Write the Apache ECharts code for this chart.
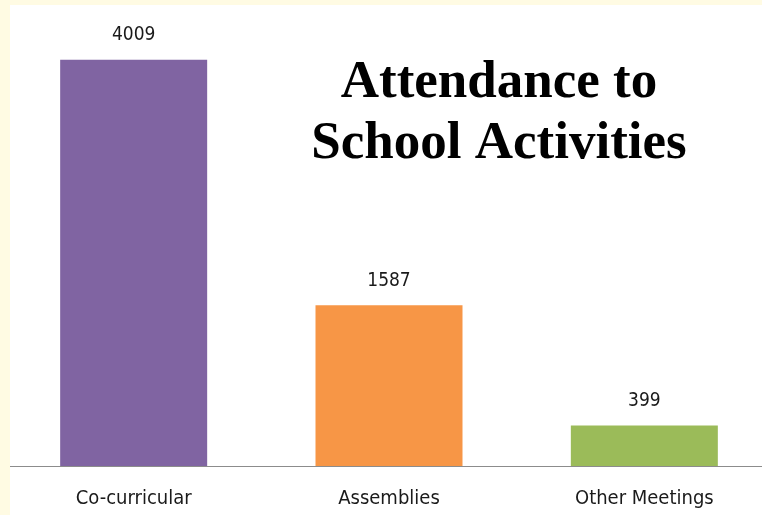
<!DOCTYPE html>
<html><head><meta charset="utf-8">
<script src="https://cdn.jsdelivr.net/npm/echarts@6/dist/echarts.min.js"></script>
<style>
html,body{margin:0;padding:0;width:762px;height:515px;background:#ffffff;overflow:hidden;}
#c{position:absolute;left:0;top:0;width:780px;height:515px;background:#ffffff;}
</style></head><body>
<div id="c"></div>
<script>
const categories = ['Co-curricular', 'Assemblies', 'Other Meetings'];
const values = [4009, 1587, 399];
const colors = ['#8064A2', '#F79646', '#9BBB59'];
const titleLines = ['Attendance to', 'School Activities'];

const labelFont = "'DejaVu Sans Condensed', 'DejaVu Sans', sans-serif";
const chart = echarts.init(document.getElementById('c'), null, {renderer: 'canvas'});
chart.setOption({
  animation: false,
  title: {
    text: titleLines.join('\n'),
    left: 494, top: 48, textAlign: 'center',
    textStyle: {fontFamily: 'Liberation Serif', fontWeight: 'bold', fontSize: 53, lineHeight: 61, color: '#000'}
  },
  graphic: [
    {type: 'rect', z: 100, shape: {x: 0, y: 0, width: 10, height: 515}, style: {fill: '#FFFBE3'}},
    {type: 'rect', z: 100, shape: {x: 0, y: 0, width: 780, height: 5}, style: {fill: '#FFFBE3'}}
  ],
  grid: {left: 6, right: 8, top: 10, bottom: 49, containLabel: false},
  xAxis: {
    type: 'category', data: categories,
    axisLine: {lineStyle: {color: '#8c8c8c', width: 1}},
    axisTick: {show: false},
    axisLabel: {margin: 23, fontFamily: labelFont, fontSize: 20, color: '#1a1a1a'}
  },
  yAxis: {type: 'value', min: 0, max: 4500, show: false, splitLine: {show: false}},
  series: [{
    type: 'bar', barWidth: 147,
    data: values.map((v, i) => ({value: v, itemStyle: {color: colors[i]}})),
    label: {show: true, position: 'top', distance: 15, fontFamily: labelFont, fontSize: 19, color: '#1a1a1a'}
  }]
});
</script></body></html>
